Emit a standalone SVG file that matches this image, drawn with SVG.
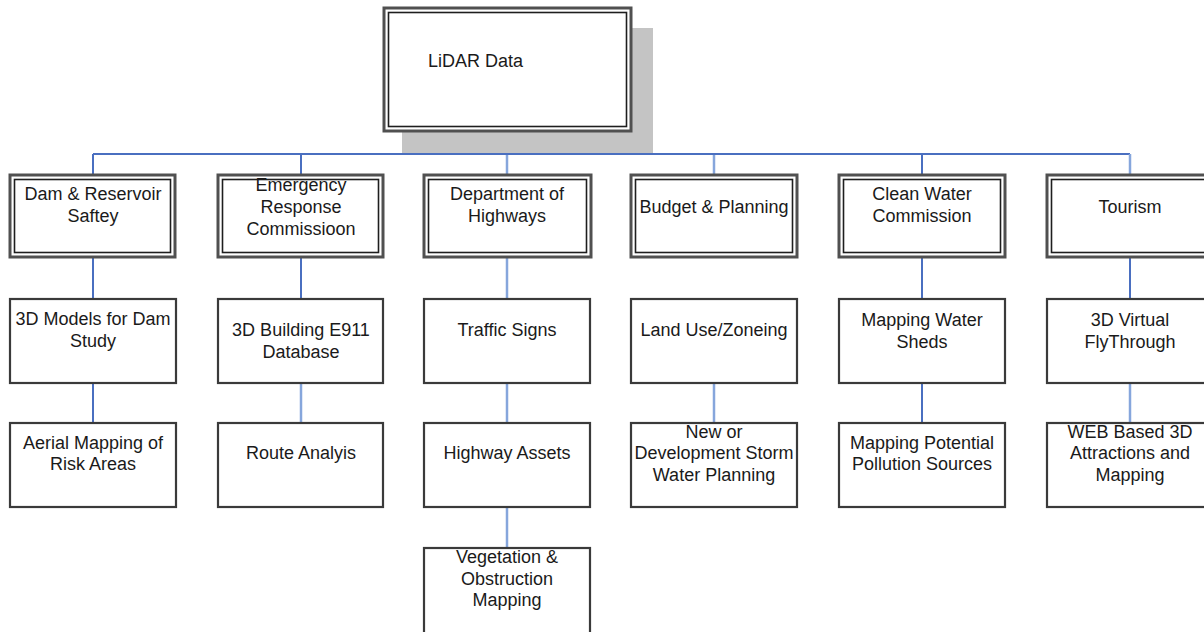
<svg xmlns="http://www.w3.org/2000/svg" width="1204" height="632" viewBox="0 0 1204 632">
<style>
text{font-family:"Liberation Sans",Arial,sans-serif;font-size:18px;fill:#1a1a1a;text-anchor:middle}
.o{fill:#fff;stroke:#505050;stroke-width:3}
.i{fill:none;stroke:#1e1e1e;stroke-width:1.6}
.s{fill:#fff;stroke:#3a3a3a;stroke-width:2.2}
.c{stroke:#4a6fc0;stroke-width:2;fill:none}
.l{stroke:#86a6dc;stroke-width:2.5;fill:none}
</style>
<rect width="1204" height="632" fill="#fff"/>
<g id="connectors">
<line class="c" x1="507" y1="132" x2="507" y2="154"/>
<line class="c" x1="93" y1="154" x2="1130" y2="154"/>
<line class="c" x1="93" y1="154" x2="93" y2="174"/>
<line class="c" x1="301" y1="154" x2="301" y2="174"/>
<line class="l" x1="507" y1="155" x2="507" y2="174"/>
<line class="l" x1="714" y1="155" x2="714" y2="174"/>
<line class="c" x1="922" y1="154" x2="922" y2="174"/>
<line class="l" x1="1130" y1="154" x2="1130" y2="174"/>
<line class="c" x1="93" y1="258" x2="93" y2="299"/>
<line class="c" x1="301" y1="258" x2="301" y2="299"/>
<line class="l" x1="507" y1="258" x2="507" y2="299"/>
<line class="c" x1="922" y1="258" x2="922" y2="299"/>
<line class="c" x1="1130" y1="258" x2="1130" y2="299"/>
<line class="c" x1="93" y1="383" x2="93" y2="423"/>
<line class="l" x1="301" y1="383" x2="301" y2="423"/>
<line class="l" x1="507" y1="383" x2="507" y2="423"/>
<line class="l" x1="714" y1="383" x2="714" y2="423"/>
<line class="c" x1="922" y1="383" x2="922" y2="423"/>
<line class="l" x1="1130" y1="383" x2="1130" y2="423"/>
<line class="l" x1="507" y1="507" x2="507" y2="548"/>
</g>
<g id="lidar">
<rect x="402" y="28" width="251" height="125" fill="#c4c4c4"/>
<rect class="o" x="384" y="8" width="247" height="123"/>
<rect class="i" x="388.5" y="12.5" width="238" height="114"/>
<text x="428" y="67" style="text-anchor:start">LiDAR Data</text>
</g>
<g id="dam">
<rect class="o" x="10" y="175" width="165" height="82"/>
<rect class="i" x="14.5" y="179.5" width="156" height="73"/>
<text x="93" y="200">Dam &amp; Reservoir</text><text x="93" y="222">Saftey</text>
</g>
<g id="emergency">
<rect class="o" x="218" y="175" width="165" height="82"/>
<rect class="i" x="222.5" y="179.5" width="156" height="73"/>
<text x="301" y="191">Emergency</text><text x="301" y="213">Response</text><text x="301" y="235">Commissioon</text>
</g>
<g id="highways">
<rect class="o" x="424" y="175" width="167" height="82"/>
<rect class="i" x="428.5" y="179.5" width="158" height="73"/>
<text x="507" y="200">Department of</text><text x="507" y="222">Highways</text>
</g>
<g id="budget">
<rect class="o" x="631" y="175" width="166" height="82"/>
<rect class="i" x="635.5" y="179.5" width="157" height="73"/>
<text x="714" y="213">Budget &amp; Planning</text>
</g>
<g id="cleanwater">
<rect class="o" x="839" y="175" width="166" height="82"/>
<rect class="i" x="843.5" y="179.5" width="157" height="73"/>
<text x="922" y="200">Clean Water</text><text x="922" y="222">Commission</text>
</g>
<g id="tourism">
<rect class="o" x="1047" y="175" width="166" height="82"/>
<rect class="i" x="1051.5" y="179.5" width="157" height="73"/>
<text x="1130" y="213">Tourism</text>
</g>
<g id="models3d"><rect class="s" x="10" y="299" width="166" height="84"/><text x="93" y="325">3D Models for Dam</text><text x="93" y="347">Study</text></g>
<g id="e911"><rect class="s" x="218" y="299" width="165" height="84"/><text x="301" y="336">3D Building E911</text><text x="301" y="358">Database</text></g>
<g id="traffic"><rect class="s" x="424" y="299" width="166" height="84"/><text x="507" y="336">Traffic Signs</text></g>
<g id="landuse"><rect class="s" x="631" y="299" width="166" height="84"/><text x="714" y="336">Land Use/Zoneing</text></g>
<g id="watersheds"><rect class="s" x="839" y="299" width="166" height="84"/><text x="922" y="326">Mapping Water</text><text x="922" y="348">Sheds</text></g>
<g id="virtual"><rect class="s" x="1047" y="299" width="166" height="84"/><text x="1130" y="326">3D Virtual</text><text x="1130" y="348">FlyThrough</text></g>
<g id="aerial"><rect class="s" x="10" y="423" width="166" height="84"/><text x="93" y="449">Aerial Mapping of</text><text x="93" y="470">Risk Areas</text></g>
<g id="route"><rect class="s" x="218" y="423" width="165" height="84"/><text x="301" y="459">Route Analyis</text></g>
<g id="assets"><rect class="s" x="424" y="423" width="166" height="84"/><text x="507" y="459">Highway Assets</text></g>
<g id="storm"><rect class="s" x="631" y="423" width="166" height="84"/><text x="714" y="438">New or</text><text x="714" y="459">Development Storm</text><text x="714" y="481">Water Planning</text></g>
<g id="pollution"><rect class="s" x="839" y="423" width="166" height="84"/><text x="922" y="449">Mapping Potential</text><text x="922" y="470">Pollution Sources</text></g>
<g id="web3d"><rect class="s" x="1047" y="423" width="166" height="84"/><text x="1130" y="438">WEB Based 3D</text><text x="1130" y="459">Attractions and</text><text x="1130" y="481">Mapping</text></g>
<g id="vegetation"><rect class="s" x="424" y="548" width="166" height="90"/><text x="507" y="563">Vegetation &amp;</text><text x="507" y="585">Obstruction</text><text x="507" y="606">Mapping</text></g>
</svg>
